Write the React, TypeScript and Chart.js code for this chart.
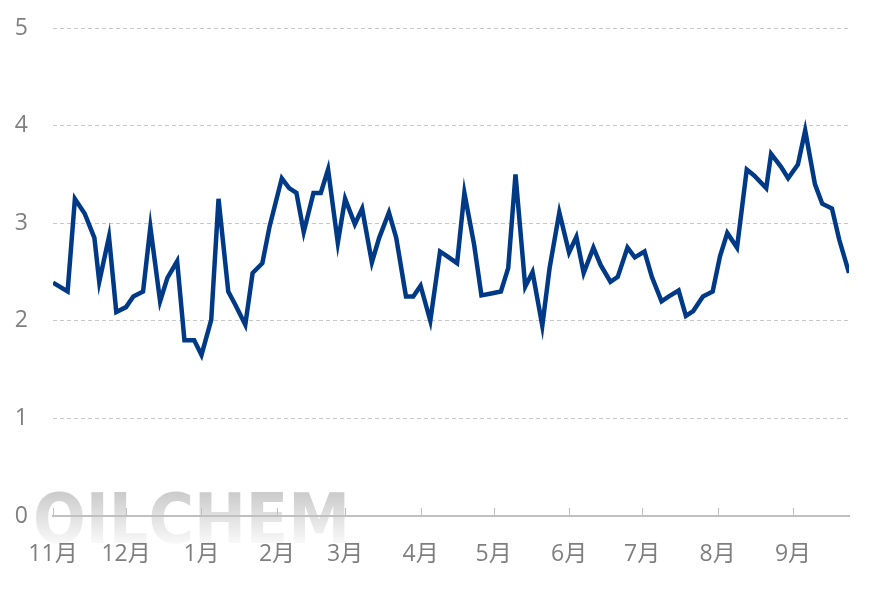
import React, { useEffect, useRef } from "react";
import { Chart, registerables } from "chart.js";
Chart.register(...registerables);

// Day offsets from 1 Nov, and month tick positions
const monthDays = [0, 30, 61, 92, 120, 151, 181, 212, 242, 273, 304];
const monthLabels = ["11月", "12月", "1月", "2月", "3月", "4月", "5月", "6月", "7月", "8月", "9月"];
const yTicks = [0, 1, 2, 3, 4, 5];

const dayOffsets = [
  0, 6, 9, 13, 17, 19, 23, 26, 30, 33, 37, 40, 44, 47, 51, 54, 58, 61, 65, 68,
  72, 75, 79, 82, 86, 89, 94, 97, 100, 103, 107, 110, 113, 117, 120, 124, 127, 131, 134, 138,
  141, 145, 148, 151, 155, 159, 162, 166, 169, 173, 176, 180, 184, 187, 190, 194, 197, 201, 204, 208,
  212, 215, 218, 222, 225, 229, 232, 236, 239, 243, 246, 250, 253, 257, 260, 263, 267, 271, 274, 277,
  281, 285, 288, 293, 295, 299, 302, 306, 309, 313, 316, 320, 323, 327,
];
const values = [
  2.39, 2.3, 3.25, 3.1, 2.85, 2.4, 2.86, 2.09, 2.14, 2.25, 2.3, 2.96, 2.2, 2.44, 2.61, 1.8, 1.8, 1.65, 2.01, 3.25,
  2.3, 2.16, 1.96, 2.49, 2.59, 2.97, 3.46, 3.36, 3.31, 2.91, 3.31, 3.31, 3.55, 2.8, 3.25, 2.99, 3.15, 2.6, 2.85, 3.11,
  2.85, 2.25, 2.25, 2.36, 2.0, 2.71, 2.66, 2.59, 3.31, 2.78, 2.26, 2.28, 2.3, 2.54, 3.5, 2.35, 2.5, 1.95, 2.54, 3.11,
  2.7, 2.86, 2.49, 2.75, 2.57, 2.4, 2.45, 2.75, 2.65, 2.71, 2.45, 2.2, 2.25, 2.31, 2.05, 2.1, 2.25, 2.3, 2.66, 2.9,
  2.75, 3.55, 3.49, 3.36, 3.71, 3.58, 3.46, 3.6, 3.95, 3.4, 3.2, 3.15, 2.83, 2.49,
];

const FONT = "'Open Sans', 'Noto Sans CJK SC', sans-serif";

const watermark = {
  id: "watermark",
  beforeDraw(chart: any) {
    const ctx = chart.ctx;
    ctx.save();
    ctx.font = "bold 70px 'DejaVu Sans'";
    const text = "OILCHEM";
    const w = ctx.measureText(text).width;
    const targetW = 317;
    ctx.textBaseline = "alphabetic";
    ctx.translate(33, 543);
    ctx.scale(targetW / w, 1);
    const grad = ctx.createLinearGradient(0, -52, 0, 2);
    grad.addColorStop(0, "rgb(202,202,202)");
    grad.addColorStop(1, "rgb(250,250,250)");
    ctx.fillStyle = grad;
    ctx.fillText(text, 0, 0);
    ctx.restore();
  },
};

const xTickMarks = {
  id: "xTickMarks",
  afterDatasetsDraw(chart: any) {
    const ctx = chart.ctx;
    const xs = chart.scales.x;
    const bottom = chart.chartArea.bottom;
    ctx.save();
    ctx.strokeStyle = "#c0c0c0";
    ctx.lineWidth = 1;
    xs.ticks.forEach((t: any) => {
      const px = Math.round(xs.getPixelForValue(t.value)) + 0.5;
      ctx.beginPath();
      ctx.moveTo(px, bottom);
      ctx.lineTo(px, bottom - 8);
      ctx.stroke();
    });
    ctx.restore();
  },
};

export default function App() {
  const ref = useRef<HTMLCanvasElement | null>(null);
  useEffect(() => {
    if (!ref.current) return;
    const chart = new Chart(ref.current, {
      type: "line",
      data: {
        datasets: [
          {
            data: dayOffsets.map((d, i) => ({ x: d, y: values[i] })),
            borderColor: "#003a87",
            borderWidth: 4.5,
            pointRadius: 0,
            tension: 0,
            fill: false,
          },
        ],
      },
      options: {
        animation: false,
        responsive: true,
        maintainAspectRatio: false,
        layout: { padding: { left: 0, right: 23, top: 28, bottom: 0 } },
        plugins: { legend: { display: false }, tooltip: { enabled: false } },
        scales: {
          x: {
            type: "linear",
            min: 0,
            max: 327,
            afterBuildTicks: (s: any) => {
              s.ticks = monthDays.map((v) => ({ value: v }));
            },
            afterFit: (s: any) => {
              s.height = 75;
            },
            ticks: {
              autoSkip: false,
              maxRotation: 0,
              padding: 25,
              color: "#7f7f7f",
              font: { size: 23, family: FONT },
              callback: (_v: any, i: number) => monthLabels[i],
            },
            grid: { display: false, drawTicks: false },
            border: { display: true, color: "#c0c0c0", width: 2 },
          },
          y: {
            min: 0,
            max: 5,
            afterBuildTicks: (s: any) => {
              s.ticks = yTicks.map((v) => ({ value: v }));
            },
            afterFit: (s: any) => {
              s.width = 53;
            },
            ticks: {
              padding: 0,
              color: "#7f7f7f",
              font: { size: 23, family: FONT },
            },
            grid: {
              color: "#c8c8c8",
              lineWidth: 1,
              drawTicks: true,
              tickLength: 25,
              tickColor: "rgba(0,0,0,0)",
            },
            border: { display: false, dash: [4, 3] },
          },
        },
      },
      plugins: [watermark, xTickMarks],
    });
    return () => chart.destroy();
  }, []);
  return (
    <div style={{ position: "fixed", left: 0, top: 0, width: 872, height: 591, background: "#fff" }}>
      <canvas ref={ref} />
    </div>
  );
}
